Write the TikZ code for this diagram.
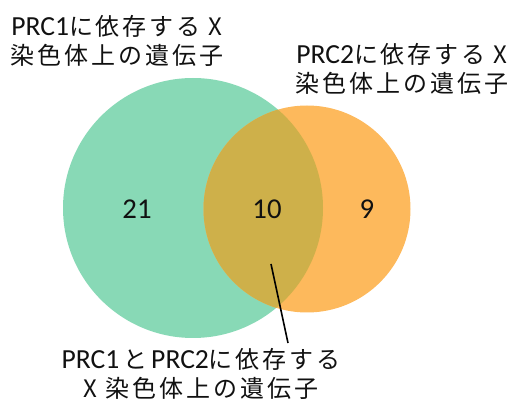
\documentclass[tikz,border=0pt]{standalone}
\usepackage{fontspec}
\setmainfont{Carlito}[Scale=1.15]
\newfontfamily\jpfont{Noto Sans CJK JP}[LetterSpace=12]
\usetikzlibrary{positioning}
\definecolor{VennGreen}{HTML}{88D9B6}
\definecolor{VennOrange}{HTML}{FDB95C}
\definecolor{VennOverlap}{HTML}{CEB04A}
\definecolor{VennText}{HTML}{111111}
\begin{document}
\begin{tikzpicture}[x=1pt, y=-1pt,
  venn/.style={circle, draw=none, inner sep=0pt},
  num/.style={font=\fontsize{25}{28}\selectfont, text=VennText},
  lbl/.style={font=\jpfont\fontsize{24}{29}\selectfont, text=VennText, align=center, inner sep=0pt},
  ptr/.style={line width=1.6pt, color=black}
]
  \useasboundingbox (0,0) rectangle (520,414);
  % two sets
  \node[venn, fill=VennGreen,  minimum size=260pt] (prcA) at (193,208) {};
  \node[venn, fill=VennOrange, minimum size=207pt] (prcB) at (307,209) {};
  \begin{scope}
    \clip (prcA.center) circle (130pt);
    \fill[VennOverlap] (prcB.center) circle (103.5pt);
  \end{scope}
  % counts
  \node[num] (onlyA) at (137,209) {21};
  \node[num] (both)  at (267,209) {10};
  \node[num] (onlyB) at (367,209) {9};
  % set labels
  \node[lbl] (lblA) at (117,41) {{\rmfamily PRC1}に依存する X\\染色体上の遺伝子};
  \node[lbl] (lblB) at (402,69) {{\rmfamily PRC2}に依存する X\\染色体上の遺伝子};
  \node[lbl] (lblAB) at (201,374) {{\rmfamily PRC1}\,と\,{\rmfamily PRC2}に依存する\\X 染色体上の遺伝子};
  \coordinate (ptrIn)  at (271,264);
  \coordinate (ptrOut) at (288,343);
  \draw[ptr] (ptrIn) -- (ptrOut);
\end{tikzpicture}
\end{document}
